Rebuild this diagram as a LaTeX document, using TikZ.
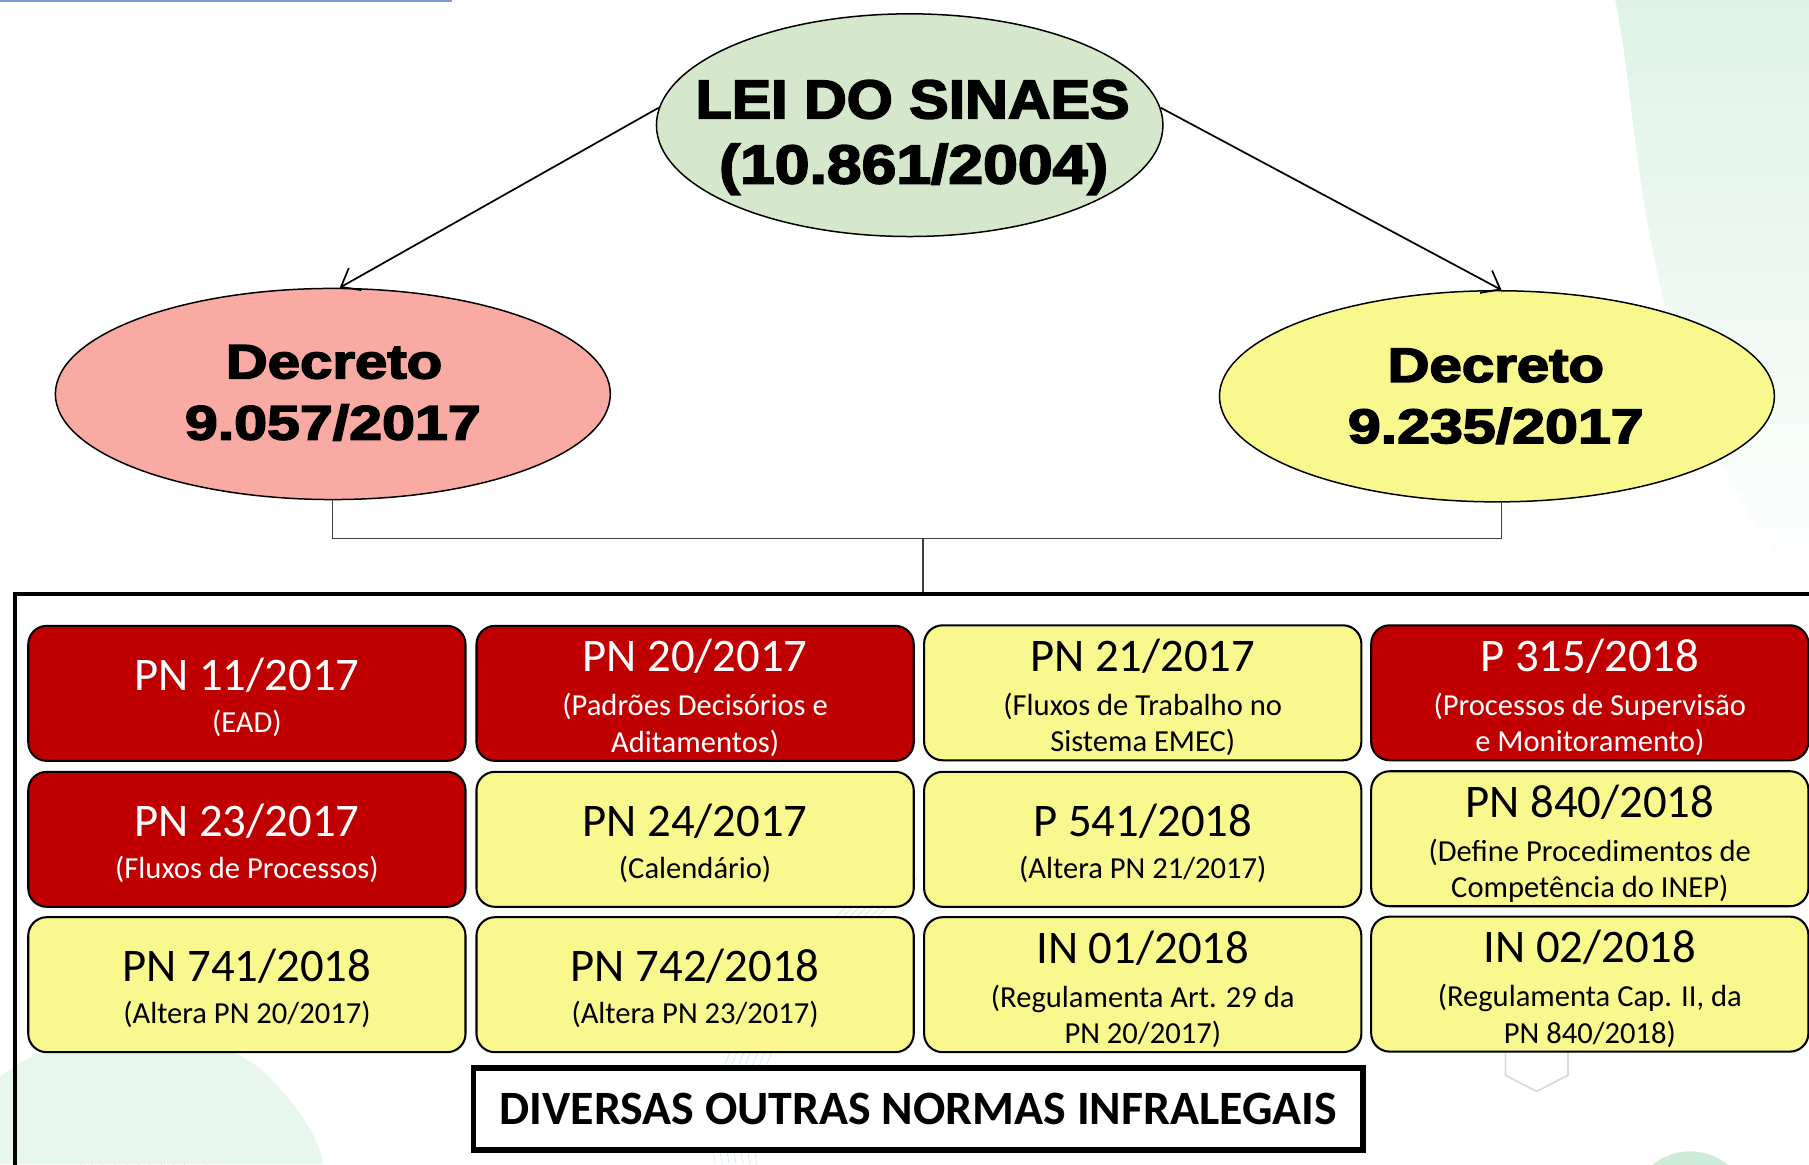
\documentclass[tikz,border=0pt]{standalone}
\usepackage{fontspec}
\usepackage{graphicx}
\setmainfont{Carlito}
\newfontfamily\heavy{Liberation Sans}[BoldFeatures={FakeBold=3}]
\usetikzlibrary{shapes.geometric,arrows.meta,calc}
\definecolor{cred}{RGB}{192,0,0}
\definecolor{cyel}{RGB}{248,248,143}
\definecolor{cgreen}{RGB}{214,232,204}
\definecolor{csalmon}{RGB}{249,171,163}
\definecolor{decog}{RGB}{222,243,230}
\definecolor{decog2}{RGB}{205,236,216}
\definecolor{topblue}{RGB}{125,155,205}
\newcommand\mkcellii[6]{%
  \node[cell,#4] (#1) at (#2,#3) {};
  \node[tt,#4t] (#1a) at ($(#1.center)+(0,-2.7)$) {#5};
  \node[st,#4t] (#1b) at ($(#1.center)+(0,34)$) {#6};}
\newcommand\mkcelliii[7]{%
  \node[cell,#4] (#1) at (#2,#3) {};
  \node[tt,#4t] (#1a) at ($(#1.center)+(0,-18.6)$) {#5};
  \node[st,#4t] (#1b) at ($(#1.center)+(0,19.5)$) {#6};
  \node[st,#4t] (#1c) at ($(#1.center)+(0,51.3)$) {#7};}
\begin{document}
\begin{tikzpicture}[x=1pt,y=-1pt,
  ell/.style={ellipse,draw,line width=1.3pt,inner sep=0pt},
  cell/.style={draw,line width=1.8pt,rounded corners=16pt,minimum width=379pt,minimum height=117pt,inner sep=0pt},
  rd/.style={fill=cred}, rdt/.style={text=white},
  yl/.style={fill=cyel}, ylt/.style={text=black},
  tt/.style={font=\fontsize{40.5}{44}\selectfont,anchor=base,inner sep=0pt},
  st/.style={font=\fontsize{26.5}{30}\selectfont,anchor=base,inner sep=0pt},
  etxt/.style={font=\heavy\bfseries,anchor=base,inner sep=0pt},
  conn/.style={line width=1.1pt,draw=black!75},
  arr/.style={line width=1.5pt,-{Straight Barb[length=14pt,width=22pt,line width=1.5pt]}}]
\useasboundingbox (0,0) rectangle (1568,1009);
\begin{scope}
\clip (0,0) rectangle (1568,1009);
% background decoration
\shade[top color=decog,bottom color=white] (1400,0) .. controls (1425,120) and (1415,330) .. (1568,520) -- (1568,0) -- cycle;
\fill[decog!70] (-40,1009) .. controls (-40,900) and (150,860) .. (230,930) .. controls (270,970) and (280,1000) .. (280,1009) -- cycle;
\foreach \r in {150,160,...,260}{\draw[decog2,line width=0.6pt] (330,1009) ++(180:\r) arc[start angle=180,end angle=120,radius=\r];}
\foreach \r in {0,6,...,36}{\draw[decog2,line width=0.6pt] (620+\r,1009) .. controls (600+\r,900) and (700+\r,820) .. (760+\r,760);}
\fill[decog2] (1465,1050) circle (52);
\draw[black!15,line width=1.5pt] (1305,905) -- (1305,932) -- (1332,946) -- (1359,932) -- (1359,905);
\draw[topblue,line width=1.6pt] (0,1) -- (392,1);
% frame
\node[draw,line width=3.5pt,minimum width=1600pt,minimum height=540pt,anchor=north west,inner sep=0pt] (frame) at (11,513) {};
\end{scope}
% ellipses
\node[ell,fill=cgreen,minimum width=439pt,minimum height=193pt] (top) at (788.5,108.5) {};
\node[ell,fill=csalmon,minimum width=481pt,minimum height=183pt] (dl) at (288.5,341.5) {};
\node[ell,fill=cyel,minimum width=481pt,minimum height=183pt] (dr) at (1297.5,343.5) {};
\node[etxt,font=\heavy\bfseries\fontsize{47.5}{50}\selectfont] (t1) at (791,102.6) {\scalebox{1.08}[1]{LEI DO SINAES}};
\node[etxt,font=\heavy\bfseries\fontsize{47.5}{50}\selectfont] (t2) at (792,159) {\scalebox{1.14}[1]{(10.861/2004)}};
\node[etxt,font=\heavy\bfseries\fontsize{42}{46}\selectfont] (dl1) at (289.5,328) {\scalebox{1.2}[1]{Decreto}};
\node[etxt,font=\heavy\bfseries\fontsize{42}{46}\selectfont] (dl2) at (288.5,381) {\scalebox{1.22}[1]{9.057/2017}};
\node[etxt,font=\heavy\bfseries\fontsize{42}{46}\selectfont] (dr1) at (1296.5,331) {\scalebox{1.2}[1]{Decreto}};
\node[etxt,font=\heavy\bfseries\fontsize{42}{46}\selectfont] (dr2) at (1296.5,384) {\scalebox{1.22}[1]{9.235/2017}};
% arrows
\draw[arr] (top.176) -- ($(dl.north)+(6,0)$);
\draw[arr] (top.4) -- ($(dr.north)+(4,0)$);
% connectors
\coordinate (j) at (800,467);
\draw[conn] (dl.south) |- (j) -| ($(dr.south)+(4,0)$);
\draw[conn] (j) -- (j |- frame.north);
% grid
\begin{scope}
\clip (0,0) rectangle (1568,1009);
\mkcellii{c11}{214}{601}{rd}{PN 11/2017}{(EAD)}
\mkcelliii{c12}{602.5}{601}{rd}{PN 20/2017}{(Padrões Decisórios e}{Aditamentos)}
\mkcelliii{c13}{990.5}{600.5}{yl}{PN 21/2017}{(Fluxos de Trabalho no}{Sistema EMEC)}
\mkcelliii{c14}{1378}{600.5}{rd}{P 315/2018}{(Processos de Supervisão}{e Monitoramento)}
\mkcellii{c21}{214}{727.5}{rd}{PN 23/2017}{(Fluxos de Processos)}
\mkcellii{c22}{602.5}{727.5}{yl}{PN 24/2017}{(Calendário)}
\mkcellii{c23}{990.5}{727.5}{yl}{P 541/2018}{(Altera PN 21/2017)}
\mkcelliii{c24}{1378}{727}{yl}{PN 840/2018}{(Define Procedimentos de}{Competência do INEP)}
\mkcellii{c31}{214}{853.5}{yl}{PN 741/2018}{(Altera PN 20/2017)}
\mkcellii{c32}{602.5}{853.5}{yl}{PN 742/2018}{(Altera PN 23/2017)}
\mkcelliii{c33}{990.5}{853.5}{yl}{IN 01/2018}{(Regulamenta Art. 29 da}{PN 20/2017)}
\mkcelliii{c34}{1378}{853}{yl}{IN 02/2018}{(Regulamenta Cap. II, da}{PN 840/2018)}
\end{scope}
% bottom box
\node[draw,line width=5pt,fill=white,minimum width=771pt,minimum height=71pt,inner sep=0pt] (other) at (796,961) {};
\node[font=\bfseries\fontsize{41.5}{46}\selectfont,anchor=base,inner sep=0pt] (othert) at (796,975) {DIVERSAS OUTRAS NORMAS INFRALEGAIS};
\end{tikzpicture}
\end{document}
